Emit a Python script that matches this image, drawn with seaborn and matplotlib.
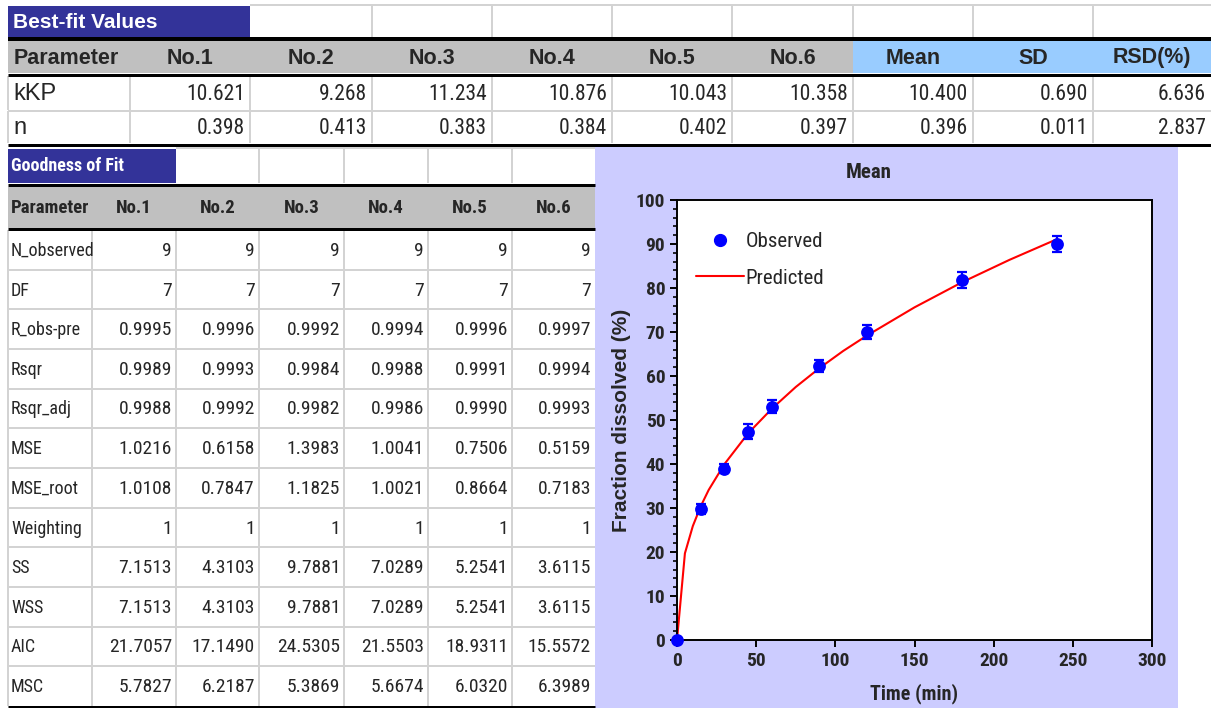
import numpy as np
import matplotlib
matplotlib.use("Agg")
import matplotlib.pyplot as plt
import matplotlib.font_manager as fm
from matplotlib.patches import Rectangle
from matplotlib.lines import Line2D
import seaborn as sns

# ---- data -------------------------------------------------------------
runs = ["No.1", "No.2", "No.3", "No.4", "No.5", "No.6"]
stat_names = ["Mean", "SD", "RSD(%)"]
param_names = ["kKP", "n"]
kkp_runs = [10.621, 9.268, 11.234, 10.876, 10.043, 10.358]
n_runs = [0.398, 0.413, 0.383, 0.384, 0.402, 0.397]
kkp_stats = [10.400, 0.690, 6.636]
n_stats = [0.396, 0.011, 2.837]

gof_names = ["N_observed", "DF", "R_obs-pre", "Rsqr", "Rsqr_adj", "MSE",
             "MSE_root", "Weighting", "SS", "WSS", "AIC", "MSC"]
gof_n_obs = [9, 9, 9, 9, 9, 9]
gof_df = [7, 7, 7, 7, 7, 7]
gof_r = [0.9995, 0.9996, 0.9992, 0.9994, 0.9996, 0.9997]
gof_rsqr = [0.9989, 0.9993, 0.9984, 0.9988, 0.9991, 0.9994]
gof_rsqr_adj = [0.9988, 0.9992, 0.9982, 0.9986, 0.9990, 0.9993]
gof_mse = [1.0216, 0.6158, 1.3983, 1.0041, 0.7506, 0.5159]
gof_mse_root = [1.0108, 0.7847, 1.1825, 1.0021, 0.8664, 0.7183]
gof_weight = [1, 1, 1, 1, 1, 1]
gof_ss = [7.1513, 4.3103, 9.7881, 7.0289, 5.2541, 3.6115]
gof_wss = [7.1513, 4.3103, 9.7881, 7.0289, 5.2541, 3.6115]
gof_aic = [21.7057, 17.1490, 24.5305, 21.5503, 18.9311, 15.5572]
gof_msc = [5.7827, 6.2187, 5.3869, 5.6674, 6.0320, 6.3989]

obs_time = [0, 15, 30, 45, 60, 90, 120, 180, 240]
obs_mean = [0.0, 29.8, 38.9, 47.3, 53.0, 62.3, 70.0, 81.8, 90.0]
obs_sd = [0.0, 1.1, 1.0, 1.7, 1.5, 1.4, 1.5, 1.9, 1.9]
pred_time = [0, 5, 10, 15, 20, 30, 45, 60, 75, 90, 105, 120, 150, 180, 210, 240]
pred_frac = [0.0, 19.7, 25.9, 30.4, 34.1, 40.0, 47.0, 52.6, 57.5, 61.8,
             65.7, 69.2, 75.6, 81.3, 86.4, 91.1]

sns.set_theme(style="ticks")

# narrow face for the squeezed spreadsheet text, whatever is installed
font_names = {f.name for f in fm.fontManager.ttflist}
regular = "Liberation Sans" if "Liberation Sans" in font_names else "DejaVu Sans"
narrow, stretch = None, "normal"
for c in ["Liberation Sans Narrow", "Arial Narrow", "Roboto Condensed",
          "Open Sans Condensed", "Noto Sans Condensed"]:
    if c in font_names:
        narrow = c
        break
if narrow is None:
    for fam in ["Liberation Sans", "Noto Sans", "Roboto", "Open Sans", "DejaVu Sans"]:
        if any(f.name == fam and str(f.stretch) in ("condensed", "semi-condensed", "extra-condensed")
               for f in fm.fontManager.ttflist):
            narrow, stretch = fam, "condensed"
            break
if narrow is None:
    narrow = regular
plt.rcParams["font.family"] = [regular, "DejaVu Sans"]
NARROW = dict(family=[narrow, regular], fontstretch=stretch)
NARROW_FP = dict(family=[narrow, regular], stretch=stretch)

W, H = 1211, 708
fig = plt.figure(figsize=(W / 100, H / 100), dpi=100)
bg = fig.add_axes([0, 0, 1, 1])
bg.set_xlim(0, W)
bg.set_ylim(H, 0)
bg.axis("off")

GRID = "#D3D3D3"
DARK = "#333399"
HEAD = "#C0C0C0"
LBLUE = "#99CCFF"
LAV = "#CCCCFF"


def hl(y, x0, x1, color=GRID, px=2):
    bg.plot([x0, x1], [y, y], color=color, lw=px * 0.72, solid_capstyle="butt")


def vl(x, y0, y1, color=GRID, px=2):
    bg.plot([x, x], [y0, y1], color=color, lw=px * 0.72, solid_capstyle="butt")


def box(x0, y0, x1, y1, color):
    bg.add_patch(Rectangle((x0, y0), x1 - x0, y1 - y0, color=color, lw=0))


# ---- top table: best-fit values ---------------------------------------
X1 = [8, 130, 250, 372, 492, 612, 732, 853, 973, 1093, 1211]
hl(5, 250, W)
for x in X1[3:-1]:
    vl(x, 5, 37)
box(8, 6, 250, 37, DARK)
bg.text(13, 22, "Best-fit Values", color="white", fontsize=15, fontweight="bold",
        ha="left", va="center")
box(8, 41, 853, 73, HEAD)
box(853, 41, W, 73, LBLUE)
bg.text(14, 58, "Parameter", fontsize=15.5, fontweight="bold", ha="left", va="center")
for i, lab in enumerate(runs + stat_names):
    bg.text((X1[i + 1] + X1[i + 2]) / 2, 58, lab, fontsize=15.5, fontweight="bold",
            ha="center", va="center")
row_y = [(76, 110), (111, 143)]
for (y0, y1), name, vals, stats in zip(row_y, param_names, [kkp_runs, n_runs],
                                        [kkp_stats, n_stats]):
    for x in X1[:-1]:
        vl(x, y0, y1)
    bg.text(13, (y0 + y1) / 2 + 1, name, fontsize=17, ha="left", va="center")
    for i, v in enumerate(list(vals) + list(stats)):
        bg.text(X1[i + 2] - 5, (y0 + y1) / 2 + 1, f"{v:.3f}", fontsize=15.5,
                ha="right", va="center", **NARROW)
hl(110.5, 8, W)
hl(39, 8, W, "black", 4)
hl(74.5, 8, W, "black", 3)
hl(145, 8, W, "black", 3)

# ---- lower table: goodness of fit -------------------------------------
X2 = [8, 92, 176, 259, 344, 428, 512, 595]
hl(148, 176, 595)
for x in X2[3:-1]:
    vl(x, 148, 183)
box(8, 149, 176, 183, DARK)
bg.text(11, 166, "Goodness of Fit", color="white", fontsize=13, fontweight="bold",
        ha="left", va="center", **NARROW)
box(8, 187, 595, 228, HEAD)
bg.text(11, 208, "Parameter", fontsize=13.5, fontweight="bold", ha="left",
        va="center", **NARROW)
for i, lab in enumerate(runs):
    bg.text((X2[i + 1] + X2[i + 2]) / 2, 208, lab, fontsize=13.5, fontweight="bold",
            ha="center", va="center", **NARROW)

gof_rows = [gof_n_obs, gof_df, gof_r, gof_rsqr, gof_rsqr_adj, gof_mse,
            gof_mse_root, gof_weight, gof_ss, gof_wss, gof_aic, gof_msc]
int_rows = {"N_observed", "DF", "Weighting"}
rh = (706 - 230) / len(gof_names)
for r, (name, vals) in enumerate(zip(gof_names, gof_rows)):
    y0 = 230 + r * rh
    y1 = y0 + rh
    yc = (y0 + y1) / 2 + 1
    if r > 0:
        hl(y0, 8, 595)
    for x in X2[:-1]:
        vl(x, y0, y1)
    bg.text(11, yc, name, fontsize=13, ha="left", va="center", **NARROW)
    for i, v in enumerate(vals):
        txt = f"{v:d}" if name in int_rows else f"{v:.4f}"
        bg.text(X2[i + 2] - 4, yc, txt, fontsize=14, ha="right", va="center", **NARROW)
hl(185, 8, 595, "black", 3)
hl(229, 8, 595, "black", 3)
hl(706.5, 8, 595, "black", 3)

# ---- embedded chart ---------------------------------------------------
box(595, 147, 1178, H, LAV)
bg.text(869, 172, "Mean", fontsize=15, fontweight="bold", ha="center", va="center",
        **NARROW)

ax = fig.add_axes([677 / W, 1 - 640 / H, (1152 - 677) / W, (640 - 200) / H])
ax.set_facecolor("white")
ax.errorbar(obs_time, obs_mean, yerr=obs_sd, fmt="none", ecolor="#0000FF",
            elinewidth=1.6, capsize=3.5, capthick=1.6, zorder=3, clip_on=False)
sns.lineplot(x=pred_time, y=pred_frac, ax=ax, color="#FF0000", linewidth=1.5,
             zorder=2, clip_on=False)
sns.scatterplot(x=obs_time, y=obs_mean, ax=ax, color="#0000FF", s=85,
                edgecolor="#0000FF", linewidth=0, zorder=4, clip_on=False)
ax.set_xlim(0, 300)
ax.set_ylim(0, 100)
ax.set_xticks(np.arange(0, 301, 50))
ax.set_yticks(np.arange(0, 101, 10))
ax.set_yticks(np.arange(0, 101, 2), minor=True)
for s in ax.spines.values():
    s.set_color("black")
    s.set_linewidth(1.4)
ax.tick_params(axis="both", which="major", direction="out", length=5, width=1.4,
               color="black", pad=3.5)
ax.tick_params(axis="y", which="minor", direction="out", length=3, width=1.2,
               color="black")
for lab in ax.get_xticklabels() + ax.get_yticklabels():
    lab.set_fontproperties(fm.FontProperties(size=14, weight="bold", **NARROW_FP))
ax.set_xlabel("Time (min)", fontsize=14.5, fontweight="bold", **NARROW)
ax.set_ylabel("Fraction dissolved (%)", fontsize=15, fontweight="bold")
ax.xaxis.set_label_coords(0.5, -0.122)
ax.xaxis.label.set_va("center")
ax.yaxis.set_label_coords(-0.116, 0.5)
ax.yaxis.label.set_va("center")

handles = [Line2D([], [], marker="o", ls="none", color="#0000FF", markersize=8.5),
           Line2D([], [], color="#FF0000", lw=1.5)]
ax.legend(handles, ["Observed", "Predicted"], loc="upper left",
          bbox_to_anchor=(0.0, 0.97), frameon=False, handlelength=2.3,
          handletextpad=0.1, labelspacing=0.85, prop=fm.FontProperties(size=15, **NARROW_FP))

fig.savefig("out.png", dpi=100)
